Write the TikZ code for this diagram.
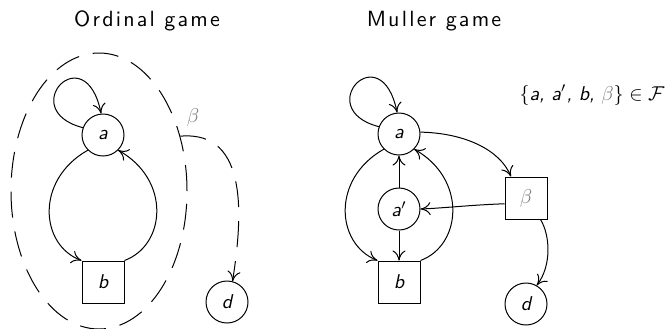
\documentclass[tikz,border=0pt]{standalone}
\usepackage{fontspec}
\usetikzlibrary{arrows.meta,shapes.geometric}
\newfontfamily\titlesans{Latin Modern Sans}[LetterSpace=10]
\tikzset{
  st/.style={circle, draw, minimum size=21pt, inner sep=0pt},
  sq/.style={rectangle, draw, minimum size=21pt, inner sep=0pt},
  ed/.style={-{To[length=5pt,width=6.5pt]}},
  dsh/.style={dash pattern=on 13pt off 7pt},
  ttl/.style={font=\titlesans\fontsize{11}{13}\selectfont},
  grayb/.style={text=black!50},
}
\begin{document}
\begin{tikzpicture}[x=0.5pt,y=-0.5pt,line width=0.5pt,
  every node/.append style={font=\sffamily\itshape\fontsize{10}{12}\selectfont}]
\useasboundingbox (0,0) rectangle (667,328);
% titles
\node[ttl] (t1) at (147,21) {Ordinal game};
\node[ttl] (t2) at (434,21) {Muller game};
% left graph
\node[st] (a1) at (103,135) {a};
\node[sq] (b1) at (103,282) {b};
\node[st] (d1) at (227,302) {d};
\node[ellipse, draw, dsh, minimum width=88pt, minimum height=138pt, inner sep=0pt] (B1) at (99,191) {};
\node[grayb] (lb) at (193,117) {$\beta$};
\draw[ed] (a1.160) .. controls (15,110) and (85,35) .. (a1.95);
\draw[ed] (a1.225) .. controls (35,180) and (40,245) .. (b1.north west);
\draw[ed] (b1.north east) .. controls (166,245) and (171,180) .. (a1.315);
\draw[ed,dsh] (B1.34) .. controls (250,130) and (242,220) .. (d1.75);
% right graph
\node[st] (a2) at (399,134) {a};
\node[st] (a3) at (399,209) {a$'$};
\node[sq] (b2) at (399,282) {b};
\node[sq] (be) at (526,198) {\color{black!50}$\beta$};
\node[st] (d2) at (526,304) {d};
\node (F) at (592,95) {$\{$a, a$'$, b, {\color{black!50}$\beta$}$\} \in \mathcal{F}$};
\draw[ed] (a2.160) .. controls (311,109) and (381,34) .. (a2.95);
\draw[ed] (a2.225) .. controls (331,179) and (336,244) .. (b2.north west);
\draw[ed] (b2.north east) .. controls (462,245) and (467,179) .. (a2.315);
\draw[ed] (a3) -- (a2);
\draw[ed] (a3) -- (b2);
\draw[ed] (a2.5) .. controls (465,133) and (500,150) .. (be.125);
\draw[ed] (be.195) .. controls (470,205) and (445,208) .. (a3.east);
\draw[ed] (be.-56) .. controls (550,235) and (552,265) .. (d2.60);
\end{tikzpicture}
\end{document}
